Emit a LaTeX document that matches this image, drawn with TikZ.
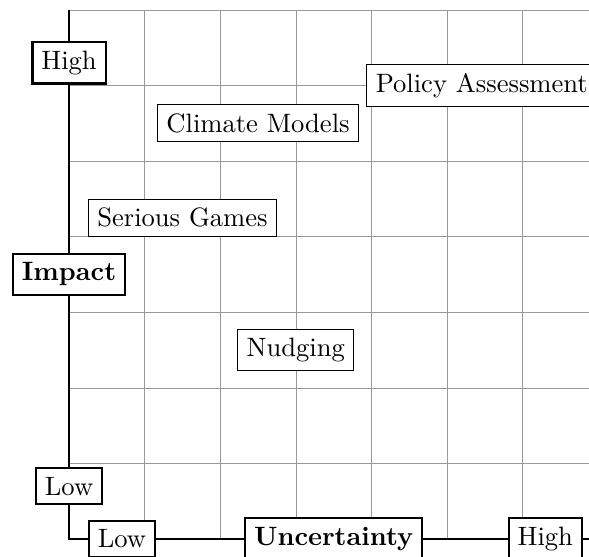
\documentclass[tikz,border=0pt]{standalone}
\usepackage{amsmath,amssymb}
\usepackage{tikz}

\tikzset{
  axislabel/.style={draw,thick,fill=white},
  method/.style={draw,fill=white},
}

\begin{document}
\begin{tikzpicture}
        \useasboundingbox (-0.913,-0.225) rectangle (6.878,7.13);
        \clip (-0.913,-0.225) rectangle (6.878,7.13);
        % Grid
        \draw[step=1,gray!80,very thin] (0,0) grid (7,7);

        % Axis
        \coordinate (ytop) at (0,7);
        \coordinate (xend) at (7.5,0);
        \node[axislabel] (yhigh) at (0,6.3) {High};
        \node[axislabel] (impact) at (0,3.5) {\textbf{Impact}};
        \node[axislabel] (ylow) at (0,0.7) {Low};
        \node[axislabel] (xlow) at (0.7,0) {Low};
        \node[axislabel] (uncert) at (3.5,0) {\textbf{Uncertainty}};
        \node[axislabel] (xhigh) at (6.3,0) {High};
        \draw[thick] (ytop) -- (yhigh) -- (impact) -- (ylow) |- (xlow) -- (uncert) -- (xhigh) -- (xend);

        % Methods
        \node[method] (policy) at (5.46,6) {Policy Assessment};
        \node[method] (climate) at (2.5,5.5) {Climate Models};
        \node[method] (games) at (1.5,4.25) {Serious Games};
        \node[method] (nudging) at (3,2.5) {Nudging};
\end{tikzpicture}
\end{document}
